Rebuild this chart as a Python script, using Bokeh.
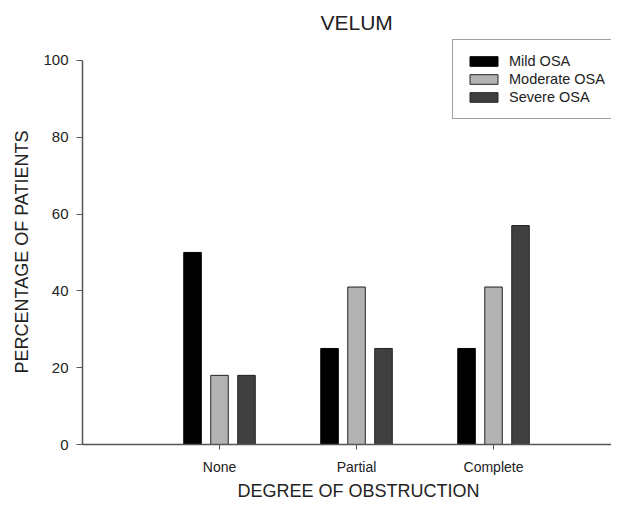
from bokeh.plotting import figure
from bokeh.models import ColumnDataSource, FixedTicker, Title, Range1d, Legend
from bokeh.transform import dodge
from bokeh.embed import file_html
from bokeh.resources import INLINE

categories = ["None", "Partial", "Complete"]
cat_pos = [1, 2, 3]
mild = [50, 25, 25]
moderate = [18, 41, 41]
severe = [18, 25, 57]
y_ticks = [0, 20, 40, 60, 80, 100]

FONT = "Liberation Sans"

src = ColumnDataSource(dict(x=cat_pos, mild=mild, moderate=moderate, severe=severe))

p = figure(width=611, height=502, output_backend="svg", toolbar_location=None,
           x_range=Range1d(0, 3.861), y_range=Range1d(0, 105.7),
           min_border_left=82, min_border_top=38, min_border_bottom=58, min_border_right=0)
p.outline_line_color = None
p.grid.visible = False

p.title = Title(text="VELUM", align="left", offset=238, standoff=10,
                text_font=FONT, text_font_size="21px", text_font_style="normal",
                text_color="#222222")

bw = 0.128
r1 = p.vbar(x=dodge("x", -0.197), top="mild", width=bw, source=src,
            fill_color="#000000", line_color="#000000", line_width=1)
r2 = p.vbar(x=dodge("x", 0.0), top="moderate", width=bw, source=src,
            fill_color="#b3b3b3", line_color="#222222", line_width=1)
r3 = p.vbar(x=dodge("x", 0.197), top="severe", width=bw, source=src,
            fill_color="#404040", line_color="#222222", line_width=1)

legend = Legend(items=[("Mild OSA", [r1]), ("Moderate OSA", [r2]), ("Severe OSA", [r3])],
                location=(370, 325), orientation="vertical",
                glyph_width=35, glyph_height=12, label_height=14, spacing=2,
                label_standoff=8, padding=13, margin=0,
                label_text_font=FONT, label_text_font_size="14.5px", label_text_color="#222222",
                border_line_color="#444444", border_line_width=1,
                background_fill_color="white", background_fill_alpha=1)
p.add_layout(legend, "center")

# x axis
xa = p.xaxis[0]
xa.ticker = FixedTicker(ticks=cat_pos)
xa.major_label_overrides = {c: l for c, l in zip(cat_pos, categories)}
xa.minor_tick_line_color = None
xa.major_tick_in = 0
xa.major_tick_out = 5
xa.major_label_standoff = 9
xa.axis_line_color = "#555555"
xa.axis_line_width = 1.5
xa.major_tick_line_color = "#555555"
xa.major_label_text_font = FONT
xa.major_label_text_font_size = "14px"
xa.major_label_text_color = "#222222"

p.add_layout(Title(text="DEGREE OF OBSTRUCTION", align="left", offset=155, standoff=3,
                   text_font=FONT, text_font_size="18px", text_font_style="normal",
                   text_color="#222222"), "below")

# y axis
ya = p.yaxis[0]
ya.ticker = FixedTicker(ticks=y_ticks)
ya.bounds = (0, 100)
ya.minor_tick_line_color = None
ya.major_tick_in = 0
ya.major_tick_out = 6
ya.major_label_standoff = 8
ya.axis_line_color = "#555555"
ya.axis_line_width = 1.5
ya.major_tick_line_color = "#555555"
ya.major_label_text_font = FONT
ya.major_label_text_font_size = "15px"
ya.major_label_text_color = "#222222"

p.add_layout(Title(text="PERCENTAGE OF PATIENTS", align="left", offset=71, standoff=18,
                   text_font=FONT, text_font_size="18px", text_font_style="normal",
                   text_color="#222222"), "left")

open("out.html", "w").write(file_html(p, INLINE))
